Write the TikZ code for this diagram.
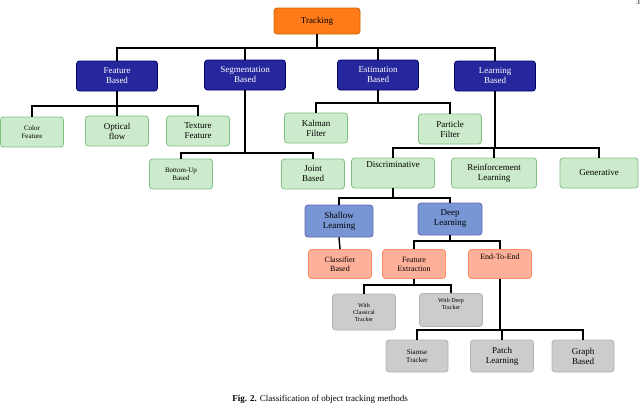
\documentclass[tikz,border=0pt]{standalone}
\usepackage{fontspec}
\setmainfont{Liberation Serif}
\begin{document}
\begin{tikzpicture}[x=1pt,y=-1pt,
 box/.style={rounded corners=3pt,align=center,inner sep=1pt,line width=0.8pt},
 org/.style={box,fill=orange!85!red!90,draw=orange!80!black,font=\fontsize{9}{10}\selectfont,minimum width=86,minimum height=26},
 blu/.style={box,fill=blue!55!black!85,draw=blue!40!black,text=white,font=\fontsize{9}{10}\selectfont,minimum width=81,minimum height=30},
 grn/.style={box,fill=green!25!black!5!green!30!white,fill=green!60!black!20!white,draw=green!50!black!50,font=\fontsize{9}{10}\selectfont,minimum width=63,minimum height=30},
 lbl/.style={box,fill=cyan!40!blue!55,draw=blue!50!black!60,font=\fontsize{9}{10}\selectfont,minimum width=68,minimum height=32},
 sal/.style={box,fill=orange!45!red!40,draw=orange!50!red!60,font=\fontsize{8}{9}\selectfont,minimum width=63,minimum height=29},
 gry/.style={box,fill=black!20,draw=black!30,font=\fontsize{6}{7}\selectfont,minimum width=63,minimum height=33},
 ln/.style={line width=1.5pt,black}]
\useasboundingbox (0,0) rectangle (640,407);
\node[org] (t) at (317,21) {Tracking};
\node[blu] (fb) at (117,76) {Feature\\Based};
\node[blu] (sb) at (245,75) {Segmentation\\Based};
\node[blu] (eb) at (378,75) {Estimation\\Based};
\node[blu] (lb) at (495,76) {Learning\\Based};
\node[grn,font=\fontsize{7}{8}\selectfont] (cf) at (32,132) {Color\\Feature};
\node[grn] (of) at (117,131) {Optical\\flow};
\node[grn] (tf) at (198,131) {Texture\\Feature};
\node[grn] (kf) at (316,128) {Kalman\\Filter};
\node[grn] (pf) at (450,129) {Particle\\Filter};
\node[grn,font=\fontsize{7}{8}\selectfont] (bu) at (181,174) {Bottom-Up\\Based};
\node[grn] (jb) at (313,174) {Joint\\Based};
\node[grn,minimum width=83] (di) at (393,173) {Discriminative\\[7pt]};
\node[grn,minimum width=85] (rl) at (494,173) {Reinforcement\\Learning};
\node[grn,minimum width=78] (ge) at (599,173) {Generative};
\node[lbl] (sl) at (339,221) {Shallow\\Learning};
\node[lbl,minimum width=64] (dl) at (450,219) {Deep\\Learning};
\node[sal] (cb) at (340,264) {Classifier\\Based};
\node[sal] (fe) at (414,264) {Feature\\Extraction};
\node[sal] (ee) at (500,264) {End-To-End\\[6pt]};
\node[gry,minimum height=36] (wc) at (364,312) {With\\Classical\\Tracker};
\node[gry] (wd) at (451,310) {With Deep\\Tracker\\[6pt]};
\node[gry,font=\fontsize{7}{8}\selectfont,minimum width=62,minimum height=32] (st) at (417,356) {Siamse\\Tracker};
\node[gry,font=\fontsize{9}{10}\selectfont,minimum height=32] (pl) at (502,356) {Patch\\Learning};
\node[gry,font=\fontsize{9}{10}\selectfont,minimum width=62,minimum height=32] (gb) at (583,356) {Graph\\Based};
\node[font=\fontsize{9}{10}\selectfont] (cap) at (320,399) {\textbf{Fig. 2.} Classification of object tracking methods};
\node[font=\fontsize{7}{8}\selectfont,anchor=north east,inner sep=0pt] (pg) at (640,0) {3};
\foreach \p/\y/\cs in {t/48/{fb,sb,eb,lb}, fb/106/{cf,of,tf}, eb/103/{kf,pf}, sb/153/{bu,jb}, lb/148/{di,rl,ge}, di/198/{sl,dl}, dl/241/{fe,ee}, fe/285/{wc,wd}, ee/330/{st,pl,gb}}{
  \foreach \c in \cs {\draw[ln] (\p.south) -- (\p.south |- 0,\y) -| (\c.north);}
}
\draw[ln] (sl.south) -- (cb.north);
\end{tikzpicture}
\end{document}
